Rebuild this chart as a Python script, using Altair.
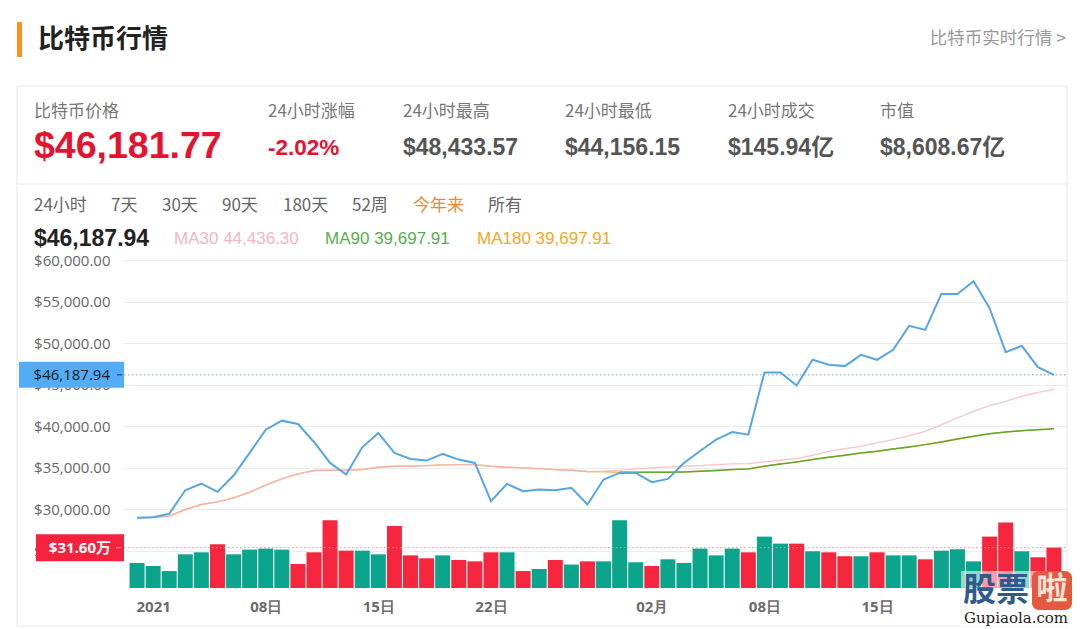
import altair as alt
import pandas as pd

# ---------------- data ----------------
# 58 daily points: 2020-12-31 .. 2021-02-26
price = [29000, 29070, 29480, 32310, 33120, 32120, 34080, 36800, 39600, 40680,
         40280, 38120, 35600, 34200, 37480, 39200, 36800, 36080, 35880, 36680,
         36000, 35600, 30990, 33080, 32200, 32400, 32310, 32600, 30600, 33600,
         34400, 34400, 33280, 33680, 35600, 37040, 38400, 39320, 39000, 46480,
         46480, 44920, 48000, 47400, 47240, 48600, 48000, 49200, 52080, 51600,
         55920, 55920, 57440, 54200, 48920, 49680, 47120, 46188]

ma30 = [29000, 29070, 29200, 30000, 30600, 30920, 31400, 32080, 32920, 33680,
        34280, 34680, 34720, 34720, 34800, 35080, 35200, 35200, 35280, 35360,
        35400, 35400, 35200, 35080, 35000, 34920, 34800, 34720, 34560, 34600,
        34700, 34880, 35000, 35120, 35200, 35280, 35400, 35480, 35520, 35720,
        35920, 36120, 36520, 37000, 37320, 37600, 38000, 38400, 38880, 39400,
        40200, 41000, 41800, 42480, 43000, 43600, 44080, 44436]

ma90 = [None] * 30 + [
        34480, 34480, 34480, 34480, 34520, 34600, 34680, 34800, 34880, 35200,
        35480, 35720, 36000, 36280, 36520, 36800, 37000, 37280, 37520, 37800,
        38120, 38480, 38800, 39120, 39320, 39480, 39600, 39698]

ma180 = [29000, 29070, 29200, 30000, 30600, 30920, 31400, 32080, 32920, 33680,
         34280, 34680, 34720, 34720, 34800, 35080, 35200, 35200, 35280, 35360,
         35400, 35400, 35200, 35080, 35000, 34920, 34800, 34720, 34560, 34520,
         34480, 34480, 34480, 34480, 34520, 34600, 34680, 34800, 34880, 35200,
         35480, 35720, 36000, 36280, 36520, 36800, 37000, 37280, 37520, 37800,
         38120, 38480, 38800, 39120, 39320, 39480, 39600, 39698]

# volume in 万 (10k USD)
volume = [19.6, 17.3, 13.3, 26.4, 28.0, 34.3, 26.4, 30.1, 30.9, 30.1,
          18.8, 28.0, 53.1, 29.3, 29.3, 26.4, 48.6, 25.6, 23.3, 25.6,
          22.0, 20.9, 28.0, 28.0, 13.3, 14.9, 22.0, 18.4, 20.9, 20.9,
          53.1, 20.2, 17.3, 22.5, 19.6, 30.9, 25.6, 30.9, 28.0, 40.3,
          34.8, 34.8, 28.8, 28.0, 24.9, 24.9, 28.0, 25.6, 25.6, 22.5,
          29.3, 30.4, 20.9, 40.3, 51.3, 28.8, 24.1, 31.7]

direction = ["up", "up", "up", "up", "up", "down", "up", "up", "up", "up",
             "down", "down", "down", "down", "up", "up", "down", "down", "down", "up",
             "down", "down", "down", "up", "down", "up", "down", "up", "down", "up",
             "up", "up", "down", "up", "up", "up", "up", "up", "down", "up",
             "up", "down", "up", "down", "down", "up", "down", "up", "up", "down",
             "up", "up", "up", "down", "down", "up", "down", "down"]

tick_pos = [1, 8, 15, 22, 32, 39, 46]
tick_labels = ["2021", "08日", "15日", "22日", "02月", "08日", "15日"]
y_ticks = [25000, 30000, 35000, 40000, 45000, 50000, 55000, 60000]

current_price = 46187.94
current_price_label = "$46,187.94"
current_volume = 31.60
current_volume_label = "$31.60万"

stat_labels = ["比特币价格", "24小时涨幅", "24小时最高", "24小时最低", "24小时成交", "市值"]
stat_values = ["$46,181.77", "-2.02%", "$48,433.57", "$44,156.15", "$145.94亿", "$8,608.67亿"]
ranges = ["24小时", "7天", "30天", "90天", "180天", "52周", "今年来", "所有"]
ma_labels = ["MA30 44,436.30", "MA90 39,697.91", "MA180 39,697.91"]

# ---------------- tables ----------------
df = pd.DataFrame({"i": list(range(len(price))), "price": price, "ma30": ma30,
                   "ma90": ma90, "ma180": ma180, "vol": volume, "dir": direction})
cur_p = pd.DataFrame({"p": [current_price]})
cur_v = pd.DataFrame({"v": [current_volume]})
one = pd.DataFrame({"k": [0]})

# ---------------- layout helpers ----------------
OX, OY = 124, 260          # page position of plot-area origin
W, H = 943, 328
F_CJK = "Noto Sans CJK SC"
F_LAT = "Liberation Sans, Noto Sans CJK SC"
F_AX = "Open Sans"

GREEN = "#0ba58e"
RED = "#f7263f"

def T(s, px, py, size, color, weight="normal", align="left", font=F_CJK):
    return alt.Chart(one).mark_text(text=s, align=align, baseline="middle", fontSize=size,
                                    color=color, fontWeight=weight, font=font).encode(
        x=alt.value(px - OX), y=alt.value(py - OY))

def R(x1, y1, x2, y2, **kw):
    return alt.Chart(one).mark_rect(**kw).encode(
        x=alt.value(x1 - OX), x2=alt.value(x2 - OX), y=alt.value(y1 - OY), y2=alt.value(y2 - OY))

def HL(x1, x2, y, color):
    return alt.Chart(one).mark_rule(color=color, strokeWidth=1).encode(
        x=alt.value(x1 - OX), x2=alt.value(x2 - OX), y=alt.value(y - OY))

# ---------------- encodings ----------------
label_expr = "".join(f"datum.value == {p} ? '{l}' : " for p, l in zip(tick_pos, tick_labels)) + "''"
X = alt.X("i:Q", title=None,
          scale=alt.Scale(domain=[-0.5, len(price) - 0.5], nice=False, zero=False),
          axis=alt.Axis(values=tick_pos, labelExpr=label_expr, grid=False, domain=False, ticks=False,
                        labelFont=F_AX, labelFontSize=15, labelFontWeight="bold", labelColor="#6b6b6b",
                        labelPadding=11))
p_scale = alt.Scale(domain=[20560, 60000], nice=False, zero=False)
p_axis = alt.Axis(values=y_ticks, format="$,.2f", grid=True, gridColor="#ececec", domain=False,
                  ticks=False, labelFont=F_AX, labelFontSize=15, labelColor="#666666", labelPadding=14)
v_scale = alt.Scale(domain=[0, 257.2], nice=False, zero=True)

base = alt.Chart(df)

def pline(field, color, width, opacity=1.0):
    return base.mark_line(color=color, strokeWidth=width, opacity=opacity).encode(
        x=X, y=alt.Y(f"{field}:Q", title=None, scale=p_scale, axis=p_axis))

price_layer = alt.layer(
    pline("ma180", "#f2a33a", 1.4, 0.8),
    pline("ma30", "#f5b3c1", 1.3, 0.8),
    pline("ma90", "#62a82e", 1.5),
    pline("price", "#56a6e4", 2.0),
    alt.Chart(cur_p).mark_rule(color="#6fa6d6", strokeDash=[1.5, 2.5], strokeWidth=1).encode(
        y=alt.Y("p:Q", scale=p_scale, axis=p_axis, title=None), x=alt.value(0), x2=alt.value(W)),
    alt.Chart(cur_p).mark_rect(color="#52adf6", yOffset=-13, y2Offset=13).encode(
        y=alt.Y("p:Q", scale=p_scale, axis=p_axis, title=None), y2="p:Q",
        x=alt.value(19 - OX), x2=alt.value(0)),
    alt.Chart(cur_p).mark_text(text=current_price_label, align="right", baseline="middle",
                               font=F_AX, fontSize=15, color="#1a1a1a").encode(
        y=alt.Y("p:Q", scale=p_scale, axis=p_axis, title=None), x=alt.value(110 - OX)),
    alt.Chart(cur_p).mark_rule(color="#333333", strokeWidth=1).encode(
        y=alt.Y("p:Q", scale=p_scale, axis=p_axis, title=None), x=alt.value(117 - OX), x2=alt.value(122 - OX)),
)

vol_layer = alt.layer(
    base.mark_bar(size=15).encode(
        x=X, y=alt.Y("vol:Q", scale=v_scale, axis=None, title=None),
        color=alt.Color("dir:N", scale=alt.Scale(domain=["up", "down"], range=[GREEN, RED]), legend=None)),
    alt.Chart(cur_v).mark_rule(color="#f08a93", strokeDash=[1.5, 2.5], strokeWidth=1).encode(
        y=alt.Y("v:Q", scale=v_scale, axis=None), x=alt.value(0), x2=alt.value(W)),
    alt.Chart(cur_v).mark_rect(color="#f5223d", yOffset=-13.5, y2Offset=13.5).encode(
        y=alt.Y("v:Q", scale=v_scale, axis=None), y2="v:Q", x=alt.value(36 - OX), x2=alt.value(0)),
    alt.Chart(cur_v).mark_text(text=current_volume_label, align="right", baseline="middle",
                               font="Open Sans, Noto Sans CJK SC", fontSize=15, fontWeight="bold",
                               color="white").encode(
        y=alt.Y("v:Q", scale=v_scale, axis=None), x=alt.value(111 - OX)),
    alt.Chart(cur_v).mark_rule(color="#ffb3bb", strokeWidth=1).encode(
        y=alt.Y("v:Q", scale=v_scale, axis=None), x=alt.value(116 - OX), x2=alt.value(121 - OX)),
)

# ---------------- page decoration ----------------
back = [
    R(17, 86, 1067, 626, fillOpacity=0, stroke="#e6e6e6", strokeWidth=1),
    HL(17, 1067, 184, "#eeeeee"),
    R(17, 22, 22, 57, color="#f7931e"),
    T("比特币行情", 38, 40, 26, "#222222", "bold"),
    T("比特币实时行情 >", 1066, 39, 17.5, "#999999", align="right"),
]
stat_x = [34, 268, 403, 565, 728, 880]
for s, x in zip(stat_labels, stat_x):
    back.append(T(s, x, 112, 17, "#777777"))
back.append(T(stat_values[0], 34, 147, 37.5, "#e5132f", "bold", font=F_LAT))
back.append(T(stat_values[1], 268, 148, 22.5, "#e5132f", "bold", font=F_LAT))
for s, x in zip(stat_values[2:], stat_x[2:]):
    back.append(T(s, x, 148, 23, "#555555", "bold", font=F_LAT))
range_x = [34, 111, 162, 222, 283, 352, 413, 488]
for s, x in zip(ranges, range_x):
    back.append(T(s, x, 206, 17, "#f08a2c" if s == "今年来" else "#666666"))
back.append(T(current_price_label, 34, 239, 23, "#222222", "bold", font=F_LAT))
for s, x, c in zip(ma_labels, [174, 325, 477], ["#f5b5c5", "#55b04c", "#f5a623"]):
    back.append(T(s, x, 239, 17, c, font=F_LAT))

front = [
    R(961, 571, 1072, 629, color="white", opacity=0.55),
    T("股票", 963, 591, 33, "#2f5b8c", "bold"),
    R(1032, 571, 1072, 610, color="#e4583e", cornerRadius=7),
    T("啦", 1052, 590, 31, "#fde3da", "bold", align="center"),
    T("Gupiaola.com", 1016, 618, 15, "#222222", align="center", font="DejaVu Serif"),
]

chart = alt.layer(
    alt.layer(*back),
    vol_layer,
    price_layer,
    alt.layer(*front),
).resolve_scale(y="independent").properties(
    width=W, height=H,
    padding={"left": 116, "top": 252, "right": 5, "bottom": 41},
    autosize=alt.AutoSizeParams(type="none"),
    background="white",
).configure_view(strokeWidth=0)

chart.save("out.html", embed_options={"renderer": "svg", "actions": False})
